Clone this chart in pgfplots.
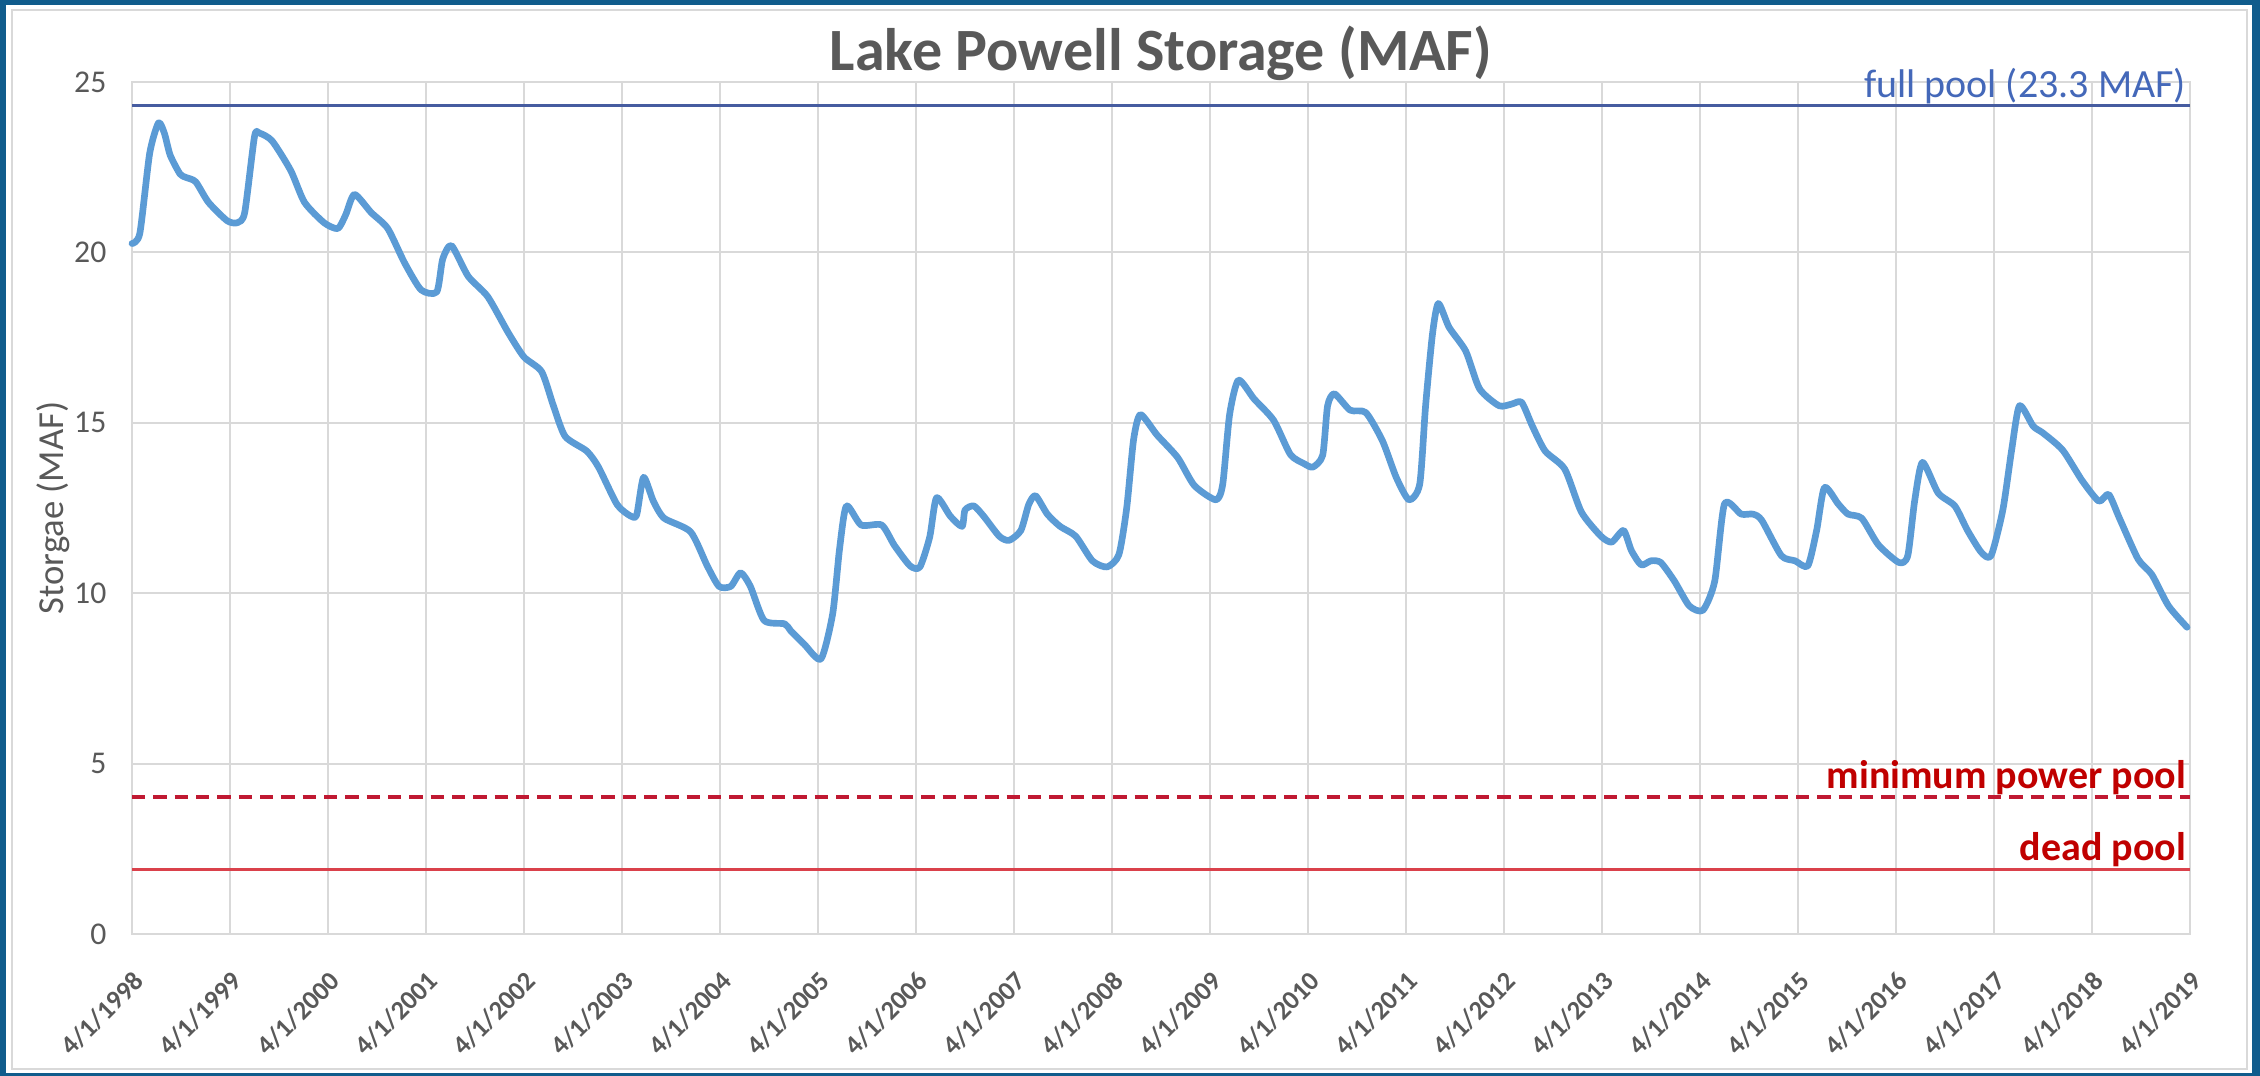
\documentclass[border=0pt]{standalone}
\usepackage{fontspec}
\setmainfont{Carlito}
\usepackage{pgfplots}
\usepackage{pgfplotstable}
\pgfplotsset{compat=1.18}
\definecolor{frameblue}{RGB}{16,92,140}
\definecolor{txtgray}{RGB}{89,89,89}
\definecolor{series}{RGB}{91,155,213}
\definecolor{fullline}{RGB}{70,92,160}
\definecolor{fulltext}{RGB}{68,104,185}
\definecolor{mpred}{RGB}{192,25,50}
\definecolor{dpred}{RGB}{218,65,75}
\definecolor{redtext}{RGB}{192,0,0}
\definecolor{gridc}{RGB}{217,217,217}

% x = years since 4/1/1998, y = storage (MAF)
\pgfplotstableread{
x y
0.00 20.26
0.08 20.56
0.18 22.9
0.27 23.8
0.33 23.5
0.39 22.85
0.49 22.3
0.55 22.2
0.65 22.07
0.78 21.47
0.97 20.93
1.075 20.87
1.15 21.17
1.25 23.4
1.30 23.5
1.43 23.27
1.62 22.4
1.76 21.47
1.96 20.87
2.10 20.7
2.18 21.1
2.27 21.7
2.44 21.17
2.61 20.7
2.78 19.7
2.95 18.9
3.11 18.84
3.17 19.8
3.26 20.2
3.43 19.3
3.63 18.7
3.84 17.64
4.00 16.93
4.18 16.5
4.30 15.5
4.42 14.6
4.64 14.17
4.76 13.7
4.95 12.6
5.09 12.26
5.15 12.3
5.22 13.4
5.32 12.7
5.43 12.2
5.70 11.8
5.87 10.8
5.99 10.2
6.11 10.2
6.21 10.6
6.31 10.2
6.45 9.2
6.66 9.1
6.72 8.9
6.86 8.5
7.03 8.07
7.15 9.4
7.22 11.3
7.29 12.56
7.44 12.0
7.65 12.0
7.78 11.4
7.94 10.8
8.04 10.77
8.14 11.65
8.21 12.8
8.35 12.26
8.47 11.96
8.50 12.44
8.59 12.56
8.69 12.26
8.85 11.67
8.95 11.55
9.07 11.84
9.15 12.6
9.22 12.86
9.34 12.32
9.47 11.96
9.63 11.67
9.80 10.95
9.95 10.77
10.07 11.13
10.15 12.5
10.22 14.5
10.29 15.24
10.46 14.64
10.67 13.98
10.84 13.16
11.06 12.74
11.13 13.2
11.20 15.24
11.29 16.25
11.45 15.7
11.65 15.07
11.82 14.07
11.96 13.8
12.05 13.7
12.15 14.05
12.20 15.5
12.27 15.85
12.43 15.37
12.59 15.3
12.76 14.47
12.90 13.4
13.03 12.74
13.14 13.2
13.20 15.5
13.27 17.6
13.33 18.5
13.44 17.8
13.61 17.1
13.75 16.0
13.95 15.5
14.08 15.55
14.18 15.6
14.29 14.9
14.42 14.17
14.62 13.64
14.79 12.38
14.99 11.67
15.10 11.5
15.22 11.84
15.30 11.25
15.40 10.83
15.50 10.95
15.60 10.9
15.74 10.35
15.89 9.63
16.03 9.5
16.15 10.35
16.25 12.62
16.42 12.32
16.54 12.32
16.63 12.14
16.83 11.1
16.97 10.95
17.10 10.8
17.19 11.84
17.27 13.1
17.41 12.62
17.51 12.32
17.65 12.2
17.82 11.42
18.03 10.9
18.12 11.1
18.19 12.7
18.27 13.84
18.43 12.94
18.60 12.56
18.73 11.84
18.87 11.2
18.97 11.1
19.09 12.44
19.18 14.2
19.26 15.5
19.40 14.9
19.50 14.7
19.70 14.2
19.90 13.3
20.07 12.7
20.17 12.9
20.28 12.2
20.47 11.0
20.61 10.55
20.78 9.63
20.97 9.0
}\storage

\begin{document}
\begin{tikzpicture}
\fill[frameblue] (0pt,0pt) rectangle (678pt,322.8pt);
\fill[white] (1.7pt,1.0pt) rectangle (675.6pt,321.4pt);
\draw[gridc, line width=0.6pt] (3.6pt,2.2pt) rectangle (674.2pt,319.8pt);
\node[anchor=base, font=\bfseries\fontsize{18}{21}\selectfont, text=txtgray] at (348.3pt,301.5pt) {Lake Powell Storage (MAF)};
\node[rotate=90, font=\fontsize{11}{13}\selectfont, text=txtgray] at (15.9pt,170.4pt) {Storgae (MAF)};
\begin{axis}[
  at={(39.6pt,42.6pt)}, anchor=south west,
  scale only axis, width=617.4pt, height=255.6pt,
  xmin=0, xmax=21, ymin=0, ymax=25,
  xtick={0,...,21},
  xticklabels={4/1/1998,4/1/1999,4/1/2000,4/1/2001,4/1/2002,4/1/2003,4/1/2004,4/1/2005,4/1/2006,4/1/2007,4/1/2008,4/1/2009,4/1/2010,4/1/2011,4/1/2012,4/1/2013,4/1/2014,4/1/2015,4/1/2016,4/1/2017,4/1/2018,4/1/2019},
  ytick={0,5,...,25},
  major tick length=0pt,
  grid=major,
  major grid style={draw=gridc, line width=0.6pt},
  axis line style={draw=gridc, line width=0.6pt},
  /pgf/number format/assume math mode=true,
  tick label style={text=txtgray},
  yticklabel style={font=\fontsize{9.5}{11}\selectfont, inner sep=0pt, xshift=-7.5pt},
  xticklabel shift=10.5pt,
  xticklabel style={font=\bfseries\fontsize{8}{10}\selectfont, inner sep=0pt, rotate=45, anchor=north east},
  clip=false,
]
\addplot[fullline, line width=0.7pt] coordinates {(0,24.31) (21,24.31)};
\addplot[mpred, line width=1pt, dash pattern=on 4pt off 2.4pt] coordinates {(0,4.02) (21,4.02)};
\addplot[dpred, line width=1pt] coordinates {(0,1.9) (21,1.9)};
\addplot[series, line width=2pt, smooth, tension=0.4, line join=round, line cap=round] table[x=x,y=y] {\storage};
\node[anchor=base east, inner sep=1pt, yshift=2.5pt, font=\fontsize{12}{14}\selectfont, text=fulltext] at (axis cs:21,24.31) {full pool (23.3 MAF)};
\node[anchor=base east, inner sep=1pt, yshift=2.5pt, font=\bfseries\fontsize{12}{14}\selectfont, text=redtext] at (axis cs:21,4.02) {minimum power pool};
\node[anchor=base east, inner sep=1pt, yshift=2.5pt, font=\bfseries\fontsize{12}{14}\selectfont, text=redtext] at (axis cs:21,1.9) {dead pool};
\end{axis}
\end{tikzpicture}
\end{document}
